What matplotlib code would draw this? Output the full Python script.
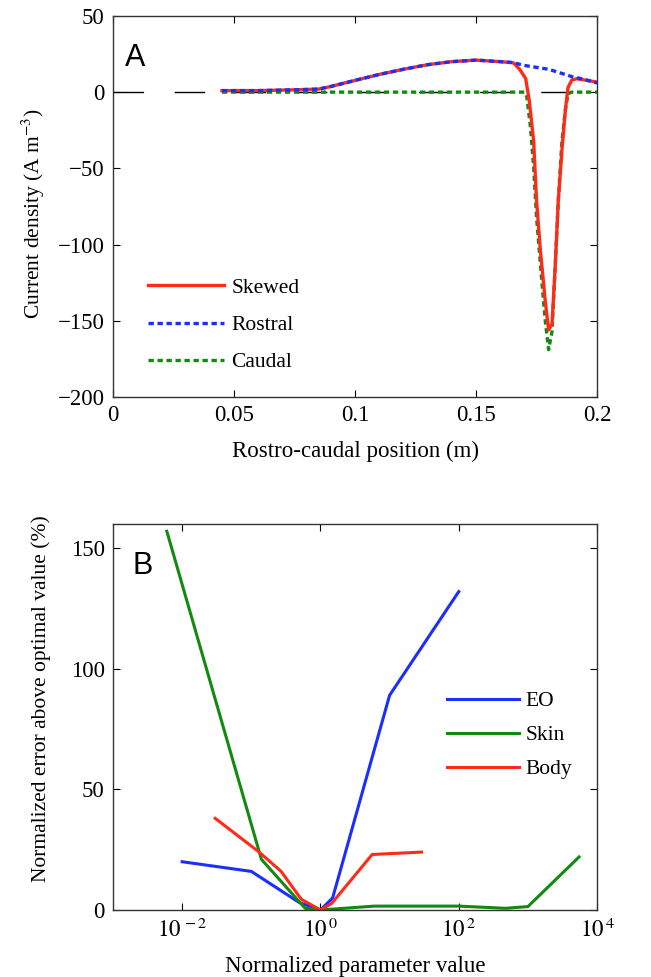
import matplotlib
matplotlib.use('Agg')
import matplotlib.pyplot as plt
from matplotlib.ticker import FixedLocator, NullLocator

plt.rcParams['font.family'] = ['Liberation Serif', 'DejaVu Serif']
plt.rcParams['mathtext.fontset'] = 'stix'
plt.rcParams['axes.unicode_minus'] = True

# Panel A: current density along the body
pos_rostral = [0.045, 0.06, 0.075, 0.085, 0.09, 0.1, 0.11, 0.12, 0.13, 0.14, 0.15, 0.16, 0.165,
               0.17, 0.18, 0.19, 0.195, 0.2]
j_rostral = [1, 1, 1.5, 2, 3.7, 7.7, 11.6, 15, 18, 20, 21, 20, 19.5, 17.5, 15, 10, 8.3, 6]

pos_skewed = [0.045, 0.06, 0.075, 0.085, 0.09, 0.1, 0.11, 0.12, 0.13, 0.14, 0.15, 0.16, 0.1655,
              0.168, 0.1705, 0.172, 0.1738, 0.175, 0.1766, 0.1786, 0.18, 0.1814, 0.1827, 0.184,
              0.1855, 0.1869, 0.188, 0.1896, 0.1917, 0.2]
j_skewed = [1, 1, 1.5, 2, 3.7, 7.7, 11.6, 15, 18, 20, 21, 20, 19.2,
            15, 9, -5.5, -32, -71, -104, -137, -156, -152, -115, -71,
            -38, -12, 3, 8, 8.8, 6.6]

pos_caudal = [0.045, 0.1, 0.15, 0.17, 0.171, 0.1725, 0.1738, 0.175, 0.1766, 0.1786, 0.18, 0.1814,
              0.1827, 0.184, 0.1855, 0.1869, 0.188, 0.1896, 0.2]
j_caudal = [0, 0, 0, 0, -3, -23, -49, -82, -113, -150, -169, -157,
            -115, -71, -32, -12, -1, 0, 0]

# Panel B: sensitivity to parameters
eo_x = [0.01, 0.1, 0.5, 1, 1.5, 10, 100]
eo_y = [20, 16, 3, 0, 5, 89, 132]
skin_x = [0.006, 0.14, 0.6, 1, 6, 100, 470, 1000, 5500]
skin_y = [157, 21, 0.7, 0, 1.6, 1.6, 0.7, 1.4, 22]
body_x = [0.03, 0.13, 0.27, 0.53, 1, 1.45, 5.6, 29]
body_y = [38, 24, 16, 4.4, 0, 2.7, 23, 24]

fig = plt.figure(figsize=(6.51, 9.77), dpi=100)

fs = 16.5
yfs = 15.5
lfs = 15.5
red = '#ff2a1a'
blue = '#1a2eff'
green = '#128a12'

# ---- A ----
ax1 = fig.add_axes([0.1736, 0.5937, 0.7435, 0.39])
ax1.axhline(0, color='black', lw=1.0, linestyle=(0, (22, 22)), zorder=1)
ax1.plot(pos_skewed, j_skewed, color=red, lw=2.4, label='Skewed', zorder=3)
ax1.plot(pos_rostral, j_rostral, color=blue, lw=2.4, linestyle=(0, (1.6, 1.1)), label='Rostral', zorder=4)
ax1.plot(pos_caudal, j_caudal, color=green, lw=2.4, linestyle=(0, (1.6, 1.1)), label='Caudal', zorder=2)
ax1.set_xlim(0, 0.2)
ax1.set_ylim(-200, 50)
ax1.set_xticks([0, 0.05, 0.1, 0.15, 0.2])
ax1.set_xticklabels(['0', '0.05', '0.1', '0.15', '0.2'])
ax1.set_yticks([50, 0, -50, -100, -150, -200])
ax1.set_xlabel('Rostro-caudal position (m)', fontsize=fs)
ax1.set_ylabel('Current density (A m$^{-3}$)', fontsize=yfs)
ax1.xaxis.set_label_coords(0.5, -0.115)
ax1.yaxis.set_label_coords(-0.136, 0.48)
ax1.text(0.025, 0.93, 'A', transform=ax1.transAxes, fontsize=22,
         family=['Liberation Sans'], va='top', ha='left')
ax1.legend(loc='lower left', bbox_to_anchor=(0.055, 0.042), borderaxespad=0, frameon=False,
           fontsize=lfs, handlelength=3.5, labelspacing=0.8, handletextpad=0.35)

# ---- B ----
ax2 = fig.add_axes([0.1736, 0.0686, 0.7435, 0.395])
ax2.plot(eo_x, eo_y, color=blue, lw=2.2, label='EO')
ax2.plot(skin_x, skin_y, color=green, lw=2.2, label='Skin')
ax2.plot(body_x, body_y, color=red, lw=2.2, label='Body')
ax2.set_xscale('log')
ax2.set_xlim(1e-3, 1e4)
ax2.set_ylim(0, 160)
ax2.xaxis.set_major_locator(FixedLocator([1e-2, 1e0, 1e2, 1e4]))
ax2.xaxis.set_minor_locator(NullLocator())
ax2.set_xticklabels(['$10^{\\,-2}$', '$10^{\\,0}$', '$10^{\\,2}$', '$10^{\\,4}$'])
ax2.set_yticks([0, 50, 100, 150])
ax2.set_xlabel('Normalized parameter value', fontsize=fs)
ax2.set_ylabel('Normalized error above optimal value (%)', fontsize=yfs)
ax2.xaxis.set_label_coords(0.5, -0.12)
ax2.yaxis.set_label_coords(-0.128, 0.547)
ax2.text(0.04, 0.93, 'B', transform=ax2.transAxes, fontsize=22,
         family=['Liberation Sans'], va='top', ha='left')
ax2.legend(loc='center left', bbox_to_anchor=(0.672, 0.453), borderaxespad=0, frameon=False,
           fontsize=lfs, handlelength=3.35, labelspacing=0.65, handletextpad=0.3)

for ax in (ax1, ax2):
    ax.tick_params(direction='in', top=True, right=True, labelsize=fs, length=5, width=0.8, pad=6)
    for s in ax.spines.values():
        s.set_linewidth(1.0)
        s.set_color('#333333')

fig.savefig('out.png', dpi=100)
